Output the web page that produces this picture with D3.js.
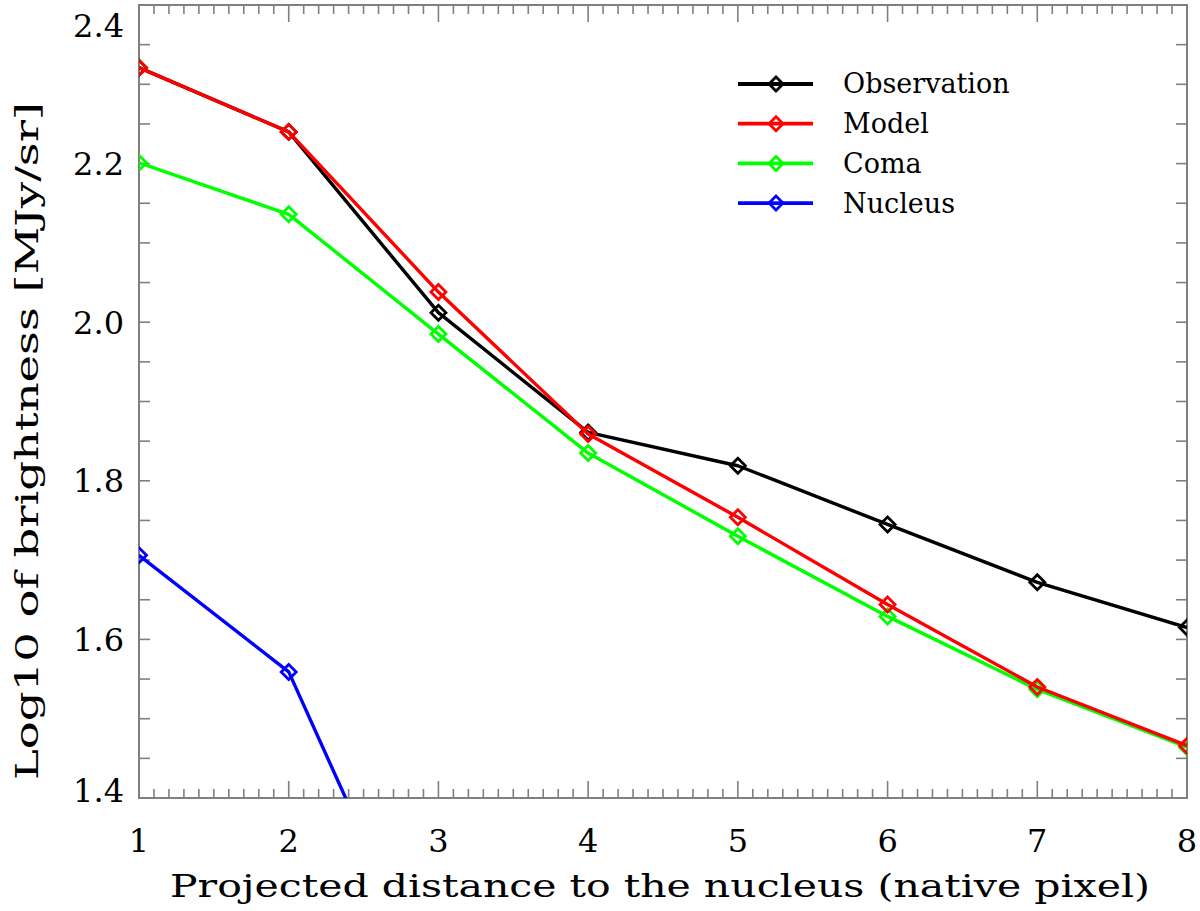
<!DOCTYPE html>
<html>
<head>
<meta charset="utf-8">
<script src="https://cdn.jsdelivr.net/npm/d3@7"></script>
<style>
  html, body { margin: 0; padding: 0; background: #fff; }
  text { font-family: "DejaVu Serif", serif; fill: #000; }
</style>
</head>
<body>
<svg id="chart" width="1200" height="911"></svg>
<script>
// distances (native pixel) and log10 brightness
const distance = [1, 2, 3, 4, 5, 6, 7, 8];
const observation = [2.321, 2.240, 2.012, 1.861, 1.819, 1.745, 1.672, 1.615];
const model = [2.321, 2.240, 2.038, 1.859, 1.754, 1.644, 1.540, 1.466];
const coma = [2.201, 2.136, 1.985, 1.835, 1.730, 1.629, 1.537, 1.464];
// nucleus drops out of the plotted range after x = 2
const nucleusDistance = [1, 2, 3];
const nucleus = [1.706, 1.559, 1.141];

const xTicks = [1, 2, 3, 4, 5, 6, 7, 8];
const yTicks = [1.4, 1.6, 1.8, 2.0, 2.2, 2.4];

const seriesNames = ["Observation", "Model", "Coma", "Nucleus"];
const seriesColors = ["#000000", "#ff0000", "#00ff00", "#0000ff"];

const margin = { top: 5, right: 13, bottom: 113, left: 139 };
const width = 1200, height = 911;
const svg = d3.select("#chart");

const x = d3.scaleLinear().domain([1, 8]).range([margin.left, width - margin.right]);
const y = d3.scaleLinear().domain([1.4, 2.4]).range([height - margin.bottom, margin.top]);

const [x0, x1] = x.range();
const [y0, y1] = y.range();

// clip for data
svg.append("defs").append("clipPath").attr("id", "plot")
  .append("rect").attr("x", x0).attr("y", y1).attr("width", x1 - x0).attr("height", y0 - y1);

// minor / major ticks, mirrored on all four sides
const axisColor = "#7f7f7f";
const ticks = svg.append("g").attr("stroke", axisColor).attr("stroke-width", 1.6);
const xMinor = d3.range(1, 8.0001, 0.1);
xMinor.forEach(v => {
  const major = Math.abs(v - Math.round(v)) < 1e-6;
  const len = major ? 17 : 9;
  ticks.append("line").attr("x1", x(v)).attr("x2", x(v)).attr("y1", y0).attr("y2", y0 - len);
  ticks.append("line").attr("x1", x(v)).attr("x2", x(v)).attr("y1", y1).attr("y2", y1 + len);
});
const yMinor = d3.range(1.4, 2.4001, 0.05);
yMinor.forEach(v => {
  const len = 11;
  ticks.append("line").attr("y1", y(v)).attr("y2", y(v)).attr("x1", x0).attr("x2", x0 + len);
  ticks.append("line").attr("y1", y(v)).attr("y2", y(v)).attr("x1", x1).attr("x2", x1 - len);
});

// frame
svg.append("rect").attr("x", x0).attr("y", y1).attr("width", x1 - x0).attr("height", y0 - y1)
  .attr("fill", "none").attr("stroke", axisColor).attr("stroke-width", 2);

// tick labels
svg.append("g").selectAll("text").data(xTicks).join("text")
  .attr("x", d => x(d)).attr("y", 852)
  .attr("text-anchor", "middle").attr("font-size", 32)
  .text(d => d);

svg.append("g").selectAll("text").data(yTicks).join("text")
  .attr("x", 124)
  .attr("y", d => Math.min(Math.max(y(d), 25), 790))
  .attr("dy", "0.36em")
  .attr("text-anchor", "end").attr("font-size", 32)
  .text(d => d3.format(".1f")(d));

// axis titles
svg.append("text").attr("x", 170).attr("y", 897).attr("font-size", 31)
  .attr("textLength", 980).attr("lengthAdjust", "spacingAndGlyphs")
  .text("Projected distance to the nucleus (native pixel)");

svg.append("text").attr("transform", "translate(38,780) rotate(-90)").attr("font-size", 31)
  .attr("textLength", 678).attr("lengthAdjust", "spacingAndGlyphs")
  .text("Log10 of brightness [MJy/sr]");

// series
const series = [
  { xs: distance, ys: observation },
  { xs: distance, ys: model },
  { xs: distance, ys: coma },
  { xs: nucleusDistance, ys: nucleus }
].map((s, i) => ({ ...s, name: seriesNames[i], color: seriesColors[i] }));

const line = d3.line().x(d => x(d[0])).y(d => y(d[1]));
const diamond = (cx, cy, r) => `M${cx},${cy - r}L${cx + r},${cy}L${cx},${cy + r}L${cx - r},${cy}Z`;

const plot = svg.append("g").attr("clip-path", "url(#plot)");
// draw nucleus, coma, observation, model order so red sits on black as in the figure
[3, 0, 2, 1].forEach(i => {
  const s = series[i];
  const pts = s.xs.map((v, j) => [v, s.ys[j]]);
  const g = plot.append("g");
  g.append("path").attr("d", line(pts)).attr("fill", "none")
    .attr("stroke", s.color).attr("stroke-width", 3.4).attr("stroke-linejoin", "round");
  g.selectAll("path.m").data(pts).join("path").attr("class", "m")
    .attr("d", d => diamond(x(d[0]), y(d[1]), 7.5))
    .attr("fill", "none").attr("stroke", s.color).attr("stroke-width", 2.8);
});

// legend
const legend = svg.append("g");
series.forEach((s, i) => {
  const ly = 84 + i * 39.7;
  legend.append("line").attr("x1", 738).attr("x2", 813).attr("y1", ly).attr("y2", ly)
    .attr("stroke", s.color).attr("stroke-width", 3.8);
  legend.append("path").attr("d", diamond(776, ly, 7))
    .attr("fill", "none").attr("stroke", s.color).attr("stroke-width", 2.8);
  legend.append("text").attr("x", 843).attr("y", ly).attr("dy", "0.35em")
    .attr("font-size", 27)
    .text(s.name);
});
</script>
</body>
</html>
